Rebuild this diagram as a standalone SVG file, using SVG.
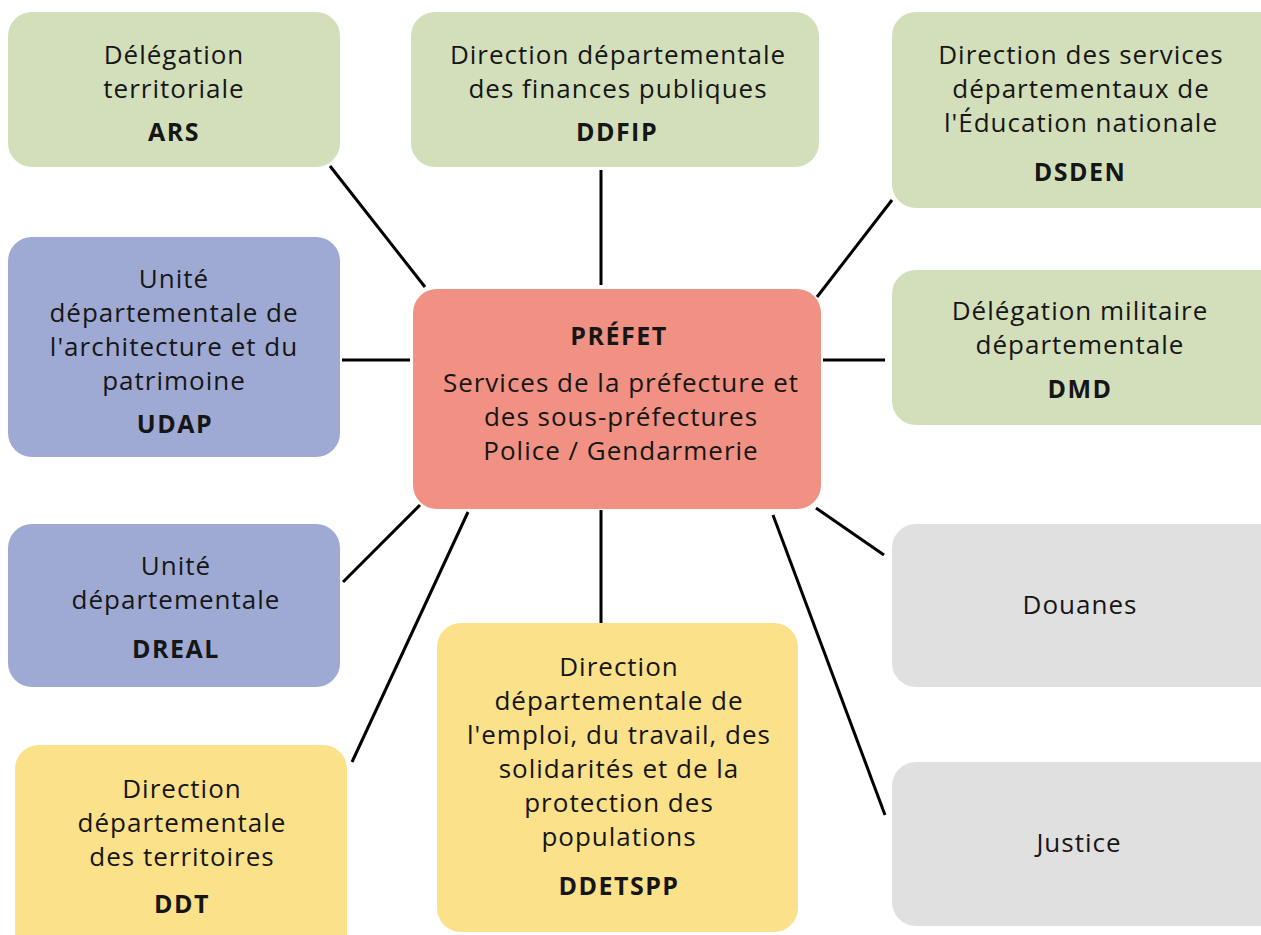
<svg xmlns="http://www.w3.org/2000/svg" width="1261" height="935" viewBox="0 0 1261 935">
  <style>
    .box { stroke: none; }
    .green { fill: #d3dfbb; }
    .blue { fill: #9eaad3; }
    .salmon { fill: #f19183; }
    .yellow { fill: #fbe18a; }
    .grey { fill: #e0e0e0; }
    text { font-family: "Open Sans", Lato, sans-serif; font-size: 26px; letter-spacing: 1px; fill: #161616; text-anchor: middle; }
    .b { font-weight: bold; font-size: 25px; letter-spacing: 1.5px; }
    .link { stroke: #000; stroke-width: 3; fill: none; }
  </style>
  <rect width="1261" height="935" fill="#fff"/>

  <g id="connectors">
    <line class="link" x1="330" y1="166" x2="425" y2="287"/>
    <line class="link" x1="601" y1="170" x2="601" y2="285"/>
    <line class="link" x1="892" y1="200" x2="817" y2="297"/>
    <line class="link" x1="342" y1="360" x2="410" y2="360"/>
    <line class="link" x1="823" y1="360" x2="885" y2="360"/>
    <line class="link" x1="343" y1="582" x2="420" y2="505"/>
    <line class="link" x1="352" y1="762" x2="468" y2="512"/>
    <line class="link" x1="601" y1="510" x2="601" y2="623"/>
    <line class="link" x1="773" y1="515" x2="885" y2="815"/>
    <line class="link" x1="816" y1="508" x2="884" y2="555"/>
  </g>

  <g id="ars">
    <rect class="box green" x="8" y="12" width="332" height="155" rx="24"/>
    <text x="174" y="64">Délégation</text>
    <text x="174" y="98">territoriale</text>
    <text class="b" x="174" y="141">ARS</text>
  </g>

  <g id="ddfip">
    <rect class="box green" x="411" y="12" width="408" height="155" rx="24"/>
    <text x="618" y="64">Direction départementale</text>
    <text x="618" y="98">des finances publiques</text>
    <text class="b" x="617" y="141">DDFIP</text>
  </g>

  <g id="dsden">
    <rect class="box green" x="892" y="12" width="394" height="196" rx="24"/>
    <text x="1081" y="64">Direction des services</text>
    <text x="1081" y="98">départementaux de</text>
    <text x="1081" y="132">l'Éducation nationale</text>
    <text class="b" x="1080" y="181">DSDEN</text>
  </g>

  <g id="udap">
    <rect class="box blue" x="8" y="237" width="332" height="220" rx="24"/>
    <text x="174" y="288">Unité</text>
    <text x="174" y="322">départementale de</text>
    <text x="174" y="356">l'architecture et du</text>
    <text x="174" y="390">patrimoine</text>
    <text class="b" x="175" y="433">UDAP</text>
  </g>

  <g id="prefet">
    <rect class="box salmon" x="413" y="289" width="408" height="220" rx="24"/>
    <text class="b" x="619" y="345">PRÉFET</text>
    <text x="621" y="392">Services de la préfecture et</text>
    <text x="621" y="426">des sous-préfectures</text>
    <text x="621" y="460">Police / Gendarmerie</text>
  </g>

  <g id="dmd">
    <rect class="box green" x="892" y="270" width="394" height="155" rx="24"/>
    <text x="1080" y="320">Délégation militaire</text>
    <text x="1080" y="354">départementale</text>
    <text class="b" x="1080" y="398">DMD</text>
  </g>

  <g id="dreal">
    <rect class="box blue" x="8" y="524" width="332" height="163" rx="24"/>
    <text x="176" y="575">Unité</text>
    <text x="176" y="609">départementale</text>
    <text class="b" x="176" y="658">DREAL</text>
  </g>

  <g id="douanes">
    <rect class="box grey" x="892" y="524" width="394" height="163" rx="24"/>
    <text x="1080" y="614">Douanes</text>
  </g>

  <g id="justice">
    <rect class="box grey" x="892" y="762" width="394" height="164" rx="24"/>
    <text x="1079" y="852">Justice</text>
  </g>

  <g id="ddt">
    <rect class="box yellow" x="15" y="745" width="332" height="215" rx="24"/>
    <text x="182" y="798">Direction</text>
    <text x="182" y="832">départementale</text>
    <text x="182" y="866">des territoires</text>
    <text class="b" x="182" y="913">DDT</text>
  </g>

  <g id="ddetspp">
    <rect class="box yellow" x="437" y="623" width="361" height="309" rx="24"/>
    <text x="619" y="676">Direction</text>
    <text x="619" y="710">départementale de</text>
    <text x="619" y="744">l'emploi, du travail, des</text>
    <text x="619" y="778">solidarités et de la</text>
    <text x="619" y="812">protection des</text>
    <text x="619" y="846">populations</text>
    <text class="b" x="619" y="895">DDETSPP</text>
  </g>
</svg>
